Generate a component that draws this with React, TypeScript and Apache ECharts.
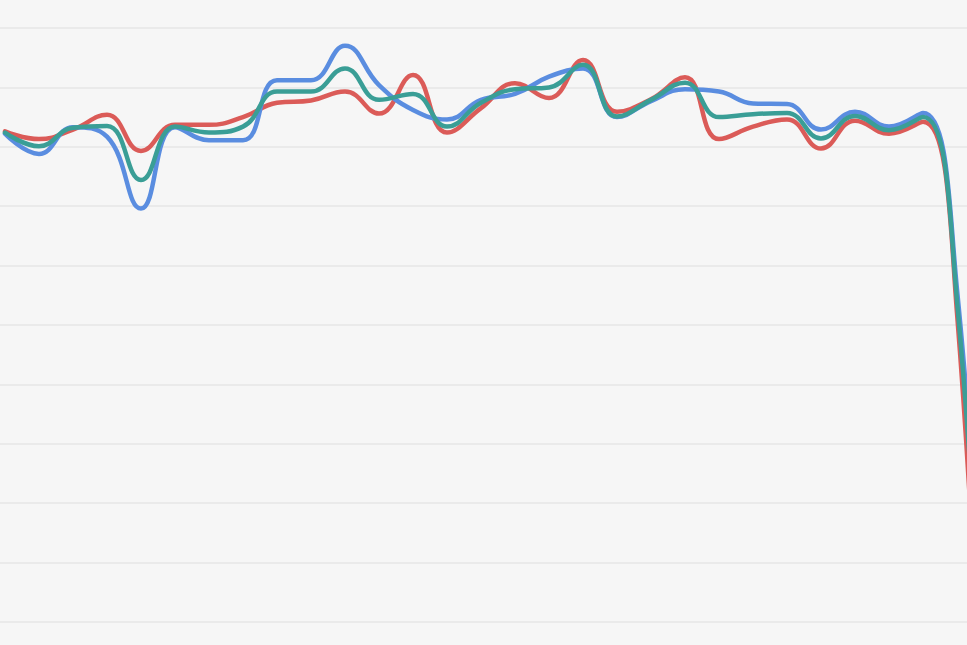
import React, { useEffect, useRef } from "react";
import * as echarts from "echarts";

const categories = [
  "0", "1", "2", "3", "4", "5", "6", "7", "8", "9", "10",
  "11", "12", "13", "14", "15", "16", "17", "18", "19", "20",
  "21", "22", "23", "24", "25", "26", "27", "28", "29", "30",
];

const redValues = [
  null, 82.6, 81.3, 82.9, 85.4, 79.3, 83.7, 83.7, 85.0, 87.4, 87.8,
  89.3, 85.6, 92.1, 82.4, 86.5, 90.7, 88.2, 94.6, 85.9, 88.0,
  91.7, 81.3, 83.4, 84.6, 79.7, 84.4, 82.2, 84.2, 52, -60,
];

const blueValues = [
  null, 82.2, 78.8, 83.3, 81.7, 69.6, 83.3, 81.1, 81.1, 91.2, 91.2,
  97.0, 90.4, 86.2, 84.6, 87.9, 88.9, 91.8, 93.2, 85.0, 87.7,
  89.7, 89.3, 87.3, 87.2, 82.9, 85.9, 83.4, 85.7, 56, -30,
];

const tealValues = [
  null, 82.4, 80.1, 83.2, 83.5, 74.4, 83.4, 82.4, 83.4, 89.3, 89.3,
  93.2, 87.9, 88.9, 83.4, 87.4, 89.7, 90.0, 93.8, 85.1, 87.9,
  90.8, 85.0, 85.5, 85.7, 81.4, 85.2, 82.8, 85.0, 54, -40,
];

const yTicks = { min: 0, max: 100, interval: 10 };

export default function App() {
  const ref = useRef<HTMLDivElement>(null);

  useEffect(() => {
    if (!ref.current) return;
    const chart = echarts.init(ref.current, undefined, { renderer: "svg" });
    const mk = (name: string, data: (number | null)[], color: string) => ({
      name,
      type: "line",
      data,
      smooth: 0.45,
      symbol: "none",
      clip: false,
      lineStyle: { color, width: 4.5, cap: "round", join: "round" },
      itemStyle: { color },
    });
    chart.setOption({
      animation: false,
      backgroundColor: "#f6f6f6",
      grid: { left: 11, top: 28, width: 34 * (categories.length - 1), height: 594 },
      xAxis: {
        type: "category",
        data: categories,
        boundaryGap: false,
        axisLine: { show: false },
        axisTick: { show: false },
        axisLabel: { show: false },
        splitLine: { show: false },
      },
      yAxis: {
        type: "value",
        min: yTicks.min,
        max: yTicks.max,
        interval: yTicks.interval,
        axisLine: { show: false },
        axisTick: { show: false },
        axisLabel: { show: false },
        splitLine: { show: true, lineStyle: { color: "#e6e6e6", width: 1.5 } },
      },
      series: [
        mk("Red", redValues, "#db5b58"),
        mk("Blue", blueValues, "#5a8de0"),
        mk("Teal", tealValues, "#3a9e96"),
      ],
    });
    return () => chart.dispose();
  }, []);

  return (
    <div
      style={{
        position: "fixed",
        left: 0,
        top: 0,
        width: 967,
        height: 645,
        overflow: "hidden",
        background: "#f6f6f6",
      }}
    >
      <div
        ref={ref}
        style={{ position: "absolute", left: -40, top: 0, width: 1200, height: 645 }}
      />
    </div>
  );
}
